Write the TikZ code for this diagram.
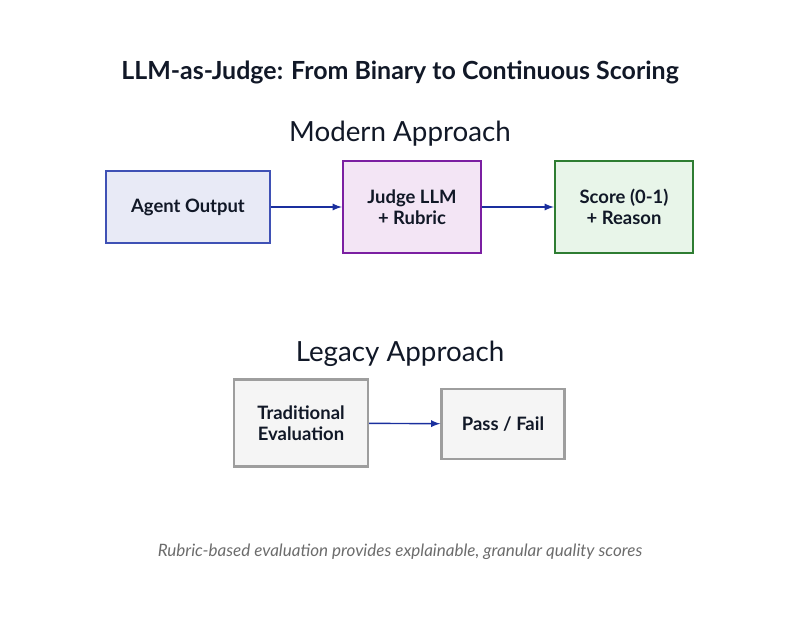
\documentclass[tikz,border=0pt]{standalone}
\usepackage{fontspec}
\setmainfont{Lato}
\usetikzlibrary{positioning}
\definecolor{navy}{HTML}{1A2F9E}
\definecolor{blueline}{HTML}{3F51B5}
\definecolor{bluefill}{HTML}{E8EAF6}
\definecolor{purpline}{HTML}{7B1FA2}
\definecolor{purpfill}{HTML}{F3E5F5}
\definecolor{greenline}{HTML}{2E7D32}
\definecolor{greenfill}{HTML}{E8F5E9}
\definecolor{grayline}{HTML}{9E9E9E}
\definecolor{grayfill}{HTML}{F5F5F5}
\definecolor{titlecol}{HTML}{111827}
\tikzstyle{box} = [draw, line width=1.3pt, rectangle, align=center,
    font=\fontsize{10.5pt}{12pt}\selectfont\bfseries, text=titlecol]
\tikzstyle{heading} = [font=\fontsize{15.8pt}{18pt}\selectfont, text=titlecol]
\tikzstyle{link} = [->, >=latex, navy, line width=0.8pt]

\begin{document}
\begin{tikzpicture}[x=0.02cm, y=-0.02cm]
	\useasboundingbox (0,0) rectangle (800,619);

	% Title
	\node [font=\fontsize{14.2pt}{17pt}\selectfont\bfseries, text=titlecol] (title) at (400,72) {LLM-as-Judge: From Binary to Continuous Scoring};

	% Modern approach
	\node [heading] (modern) at (400,134) {Modern Approach};
	\node [box, draw=blueline, fill=bluefill, minimum width=164*0.02cm, minimum height=72*0.02cm] (agent) at (188,207) {Agent Output};
	\node [box, draw=purpline, fill=purpfill, minimum width=138*0.02cm, minimum height=92*0.02cm] (judge) at (412,207) {Judge LLM\\+ Rubric};
	\node [box, draw=greenline, fill=greenfill, minimum width=138*0.02cm, minimum height=92*0.02cm] (score) at (624,207) {Score (0-1)\\+ Reason};

	% Legacy approach
	\node [heading] (legacy) at (400,354) {Legacy Approach};
	\node [box, draw=grayline, fill=grayfill, minimum width=134*0.02cm, minimum height=87*0.02cm] (trad) at (301,423) {Traditional\\Evaluation};
	\node [box, draw=grayline, fill=grayfill, minimum width=123*0.02cm, minimum height=70*0.02cm] (pass) at (503,424) {Pass / Fail};

	% Caption
	\node [font=\fontsize{9.7pt}{11pt}\selectfont\itshape, text=gray!85!black] (note) at (400,552) {Rubric-based evaluation provides explainable, granular quality scores};

	% Connectors
	\draw [link] (agent) -- (judge);
	\draw [link] (judge) -- (score);
	\draw [link] (trad) -- (pass);
\end{tikzpicture}
\end{document}
